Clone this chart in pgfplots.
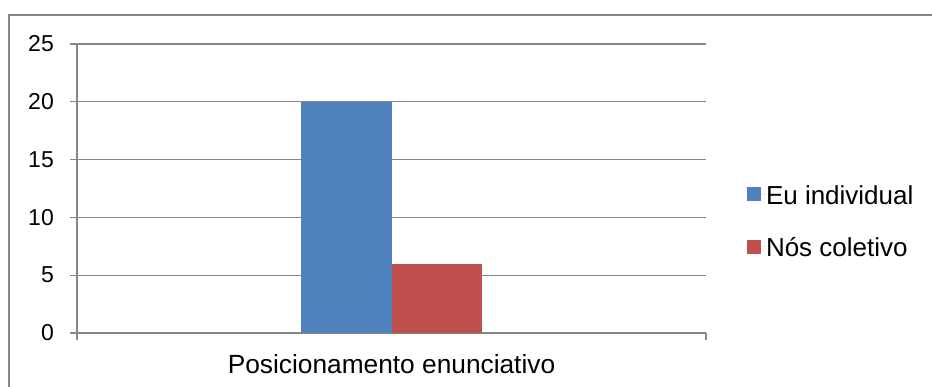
\documentclass[border=0pt]{standalone}
\usepackage{fontspec}
\setmainfont{Liberation Sans}
\usepackage{pgfplots}
\pgfplotsset{compat=1.18}

\definecolor{serieA}{HTML}{4F81BD}
\definecolor{serieB}{HTML}{C0504D}
\definecolor{linhas}{HTML}{868686}

\begin{document}
\begin{tikzpicture}[x=1pt,y=1pt]
  \useasboundingbox (0,0) rectangle (932,387);
  % moldura do gráfico
  \draw[linhas, line width=2pt] (9,-50) -- (9,372) -- (1000,372);
  \begin{axis}[
    at={(77pt,54pt)}, anchor=south west,
    scale only axis, width=629pt, height=289pt,
    xmin=0, xmax=1, ymin=0, ymax=25,
    axis lines*=left,
    axis line style={linhas, line width=1.2pt},
    ybar=0pt, bar width=0.1431,
    xtick={0,1}, xticklabels={},
    ytick={0,5,10,15,20,25},
    ymajorgrids,
    grid style={linhas, line width=1.2pt},
    tick align=outside, major tick length=7pt,
    tick style={linhas, line width=1.2pt},
    /pgf/number format/assume math mode=true,
    yticklabel style={font=\fontsize{23}{23}\selectfont, anchor=east, inner sep=0pt, xshift=-16pt},
    xlabel={Posicionamento enunciativo},
    xlabel style={font=\fontsize{26.3}{26.3}\selectfont, at={(axis description cs:0.5,0)}, anchor=base, yshift=-41pt, inner sep=0pt},
    legend style={draw=none, fill=none, inner sep=0pt, outer sep=0pt,
      at={(axis description cs:1.0652,0.5145)}, anchor=north west,
      font=\fontsize{26}{26}\selectfont, row sep=32.4pt, column sep=0pt,
      nodes={inner sep=0pt, text height=20pt, text depth=0pt}},
    legend cell align=left,
    legend image code/.code={\fill[#1] (0pt,-7pt) rectangle (14pt,7pt); \path (0pt,0pt) -- (19pt,0pt);},
  ]
    \addplot[fill=serieA, draw=none] coordinates {(0.5,20)};
    \addplot[fill=serieB, draw=none] coordinates {(0.5,6)};
    \legend{Eu individual, Nós coletivo}
  \end{axis}
\end{tikzpicture}
\end{document}
